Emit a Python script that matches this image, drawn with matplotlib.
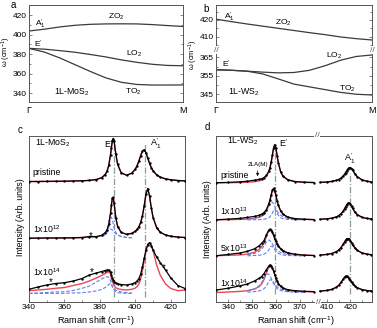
import matplotlib
matplotlib.use("Agg")
import matplotlib.pyplot as plt
from matplotlib.ticker import MultipleLocator

plt.rcParams.update({
    "font.family": ["Liberation Sans", "DejaVu Sans"],
    "mathtext.fontset": "custom",
    "mathtext.rm": "Liberation Sans",
    "mathtext.it": "Liberation Sans:italic",
    "mathtext.bf": "Liberation Sans:bold",
    "font.size": 6.3,
})

FRAME = "#555555"
CURVE = "#3a3a3a"
RED = "#ec4552"
BLUE = "#5f83ea"
REF = "#8f9c9c"

# ---- (a, b) phonon dispersion along Gamma-M (fraction of path) ----
GM = [0, 0.1, 0.2, 0.3, 0.4, 0.5, 0.6, 0.7, 0.8, 0.9, 1.0]
MOS2_ZO = [403.6, 405.5, 407.8, 409.5, 410.5, 410.9, 411.0, 410.9, 410.2, 409.2, 408.3]
MOS2_LO = [385.8, 385.0, 383.5, 381.8, 379.5, 377.0, 374.0, 371.5, 369.5, 368.3, 368.0]
MOS2_TO = [385.8, 382.0, 376.0, 369.0, 362.0, 355.5, 351.0, 348.8, 348.2, 348.2, 348.3]
WS2_ZO = [420.5, 419.0, 417.6, 416.3, 415.0, 413.7, 412.4, 411.2, 409.8, 408.8, 408.0]
WS2_LO = [358.3, 358.0, 357.5, 357.0, 356.6, 356.8, 358.0, 360.5, 363.5, 365.5, 366.3]
WS2_TO = [358.3, 358.0, 357.5, 356.0, 353.3, 350.5, 349.0, 347.5, 346.0, 345.0, 344.6]

# ---- (c) 1L-MoS2 Raman spectra (offset intensity, arb. units) ----
XC = [340, 345, 350, 355, 360, 365, 370, 374, 378, 381, 383, 384, 385, 386, 386.5, 387,
      387.5, 388, 389, 390, 392, 395, 398, 400, 401, 402, 403, 404, 405, 406, 407, 408,
      409, 410, 412, 414, 417, 420, 424, 428]
C_PRIS = [120.5, 120.5, 120.6, 120.7, 120.8, 121, 121.2, 121.6, 122.5, 124.3, 127.5, 130.6,
          136.8, 147.5, 154.5, 161, 163.5, 161, 147.8, 137.6, 129.2, 126.8, 128.8, 133,
          136.5, 141, 146.5, 151, 152.2, 149.2, 143.9, 138.6, 134.3, 131.2, 127.1, 124.9,
          123.1, 122.2, 121.5, 121.1]
C_E12 = [63.8, 63.9, 64, 64, 64.1, 64.2, 64.5, 65.5, 65.4, 66.6, 69.2, 72, 77.8, 89, 97,
         103.8, 104.6, 98.9, 83.9, 75.5, 69.6, 67.7, 68.6, 70.8, 72.6, 75.3, 79.6, 86.3,
         96.4, 108.2, 113.4, 105.9, 94, 84.5, 74.3, 69.8, 67, 65.8, 64.9, 64.5]
C_E12_FIT = [63.8, 63.9, 64, 64, 64.1, 64.2, 64.5, 64.8, 65.2, 66.6, 69.2, 72, 77.8, 89, 97,
             103.8, 104.6, 98.9, 83.9, 75.5, 69.6, 67.7, 68.6, 70.8, 72.6, 75.3, 79.6, 86.3,
             96.4, 108.2, 113.4, 105.9, 94, 84.5, 74.3, 69.8, 67, 65.8, 64.9, 64.5]
C_E14 = [12.7, 15, 17, 18.5, 19.3, 21, 23.5, 27, 29, 30.5, 31.5, 32, 32, 30, 27, 24, 22,
         20.5, 19, 18.2, 17.5, 17, 18, 19.5, 21, 23.5, 28, 35.5, 44, 52, 57.5, 59.3, 56.5,
         52, 45, 39.5, 32, 24, 16.5, 13.5]
C_E14_FIT = [11.3, 12, 12.7, 13.7, 14.5, 16.5, 18.5, 21, 24, 26.5, 28.5, 29.5, 30.3, 28, 24,
             20.5, 18.7, 16.5, 14.2, 13.3, 12.5, 12, 12.7, 14, 15.5, 18, 23, 31.5, 41, 51,
             57.5, 59.3, 56, 51.3, 37, 27, 18, 13.5, 11.3, 12]
C_E12_B1 = [65.3, 67.1, 69.4, 74.3, 82.7, 84.8, 82.7, 78.3, 74.3, 69.4, 67.1, 65.3, 64.5, 64.2]
C_E12_B2 = [66.2, 68.3, 70, 71.9, 72.8, 72.6, 71.9, 71, 70, 68.3, 67, 65.6, 64.7, 64.3]
C_E14_B1 = [8.7, 9, 9.5, 10, 10.3, 11.5, 13.7, 16, 20, 23, 25, 25.3, 24.7, 21, 18, 15.5, 14,
            13, 11.8, 11.2, 10, 9.3, 9]
C_E14_B2 = [8.5, 8.5, 8.6, 8.6, 8.7, 9, 9.3, 10, 11.2, 12.5, 14.5, 15.5, 17.5, 18.7, 18, 15.5,
            13.7, 12, 10.3, 9.5, 8.9, 8.7, 8.7]
C_REF_LINES = [387.8, 405.3]
C_STARS_X = [375, 352, 375.5, 415.8]
C_STARS_Y = [66, 19.5, 29.5, 34]

# ---- (d) 1L-WS2 Raman spectra, broken x axis ----
XD_L = [335, 340, 345, 348, 351, 353, 354, 355, 356, 357, 357.5, 358, 358.5, 359, 359.5,
        360, 360.5, 361, 362, 363, 365, 368, 372, 376]
XD_R = [407, 410, 412, 414, 415, 416, 417, 417.5, 418, 418.5, 419, 419.5, 420, 420.5, 421,
        422, 423, 425, 427, 429]
D_PRIS_L = [119.3, 119.6, 120.2, 120.8, 121.8, 122.6, 123.3, 124.5, 126.6, 130.8, 134.5,
            139.8, 146.8, 154, 157.3, 153.8, 146.5, 139.4, 130.2, 125.8, 122.2, 120.5,
            119.8, 119.5]
D_PRIS_FIT_L = [119.2, 119.3, 119.5, 119.8, 120.3, 121.2, 122, 123.3, 125.6, 130, 133.8,
                139.2, 146.3, 153.6, 157, 153.6, 146.3, 139.2, 130, 125.6, 122.2, 120.3,
                119.6, 119.4]
D_PRIS_R = [119.6, 120, 120.6, 121.6, 122.5, 123.9, 126.2, 127.7, 129.5, 131.4, 133.2, 134.3,
            134.4, 133.4, 131.8, 128, 125.2, 122.1, 120.8, 120.1]
D_13_L = [82.2, 82.9, 83.6, 84.6, 85.6, 86.7, 87.8, 89.5, 92.5, 98.2, 102.3, 107.3, 111.8,
          113.6, 111.4, 106.6, 101.3, 96.9, 91, 87.8, 84.8, 83.3, 82.7, 82.4]
D_13_FIT_L = [82.2, 82.3, 82.6, 82.9, 83.7, 84.8, 85.9, 87.7, 90.9, 96.8, 101.1, 106.3, 111,
              113, 111, 106.3, 101.1, 96.8, 90.9, 87.7, 84.8, 83.3, 82.7, 82.4]
D_13_R = [82.7, 83.2, 83.8, 85.1, 86.3, 88.2, 91.2, 93.2, 95.4, 97.4, 98.8, 98.9, 97.8, 95.8,
          93.6, 89.8, 87.3, 84.7, 83.6, 83.1]
D_513_L = [46.3, 47.6, 49, 50.7, 53.2, 56.3, 58.7, 61.4, 67.3, 71.9, 72.7, 71.9, 69.7, 66.7,
           63.5, 60.6, 58.2, 56.1, 53.1, 51.1, 49.1, 47.7, 46.8, 46.5]
D_513_FIT_L = [46.3, 46.7, 47.1, 47.9, 49.8, 52.7, 55.4, 58.6, 65.5, 71.3, 72.5, 72, 69.8,
               66.9, 63.7, 60.8, 58.4, 56.3, 53.3, 51.3, 49.1, 47.8, 46.9, 46.5]
D_513_R = [46.9, 47.6, 48.5, 50.3, 52, 54.5, 58, 60, 61.9, 63.2, 63.5, 62.7, 61.2, 59.2, 57.2,
           53.9, 51.6, 49, 47.9, 47.3]
D_14_L = [12, 13.8, 16.2, 18, 21, 23.8, 25.5, 28.5, 32.3, 36, 37, 36.5, 34, 31, 27.5, 24, 21,
          18.5, 15.8, 14, 12.3, 11.3, 10.7, 10.4]
D_14_FIT_L = [9.5, 10, 10.6, 11.3, 13, 15.5, 18, 22.5, 29, 35.5, 37, 36.5, 34, 31, 27.5, 24,
              21, 18.5, 15.5, 13.5, 11.8, 10.8, 10.3, 10.1]
D_14_R = [10.9, 11.6, 12.6, 14.8, 16.7, 19.6, 23.1, 24.8, 25.9, 25.9, 25, 23.5, 21.7, 19.9,
          18.3, 15.8, 14.2, 12.4, 11.5, 11]
# Lorentzian components (blue), on XD_L[3:23] = 348..372
D_13_B1 = [82.8, 83.5, 84.6, 85.7, 87.4, 90.1, 95.3, 97.8, 99.7, 99.9, 98.3, 95.7, 93.2, 91,
           89.4, 86.8, 85.2, 83.7, 82.9, 82.5]
D_13_B2 = [82.1, 82.3, 82.4, 82.6, 82.9, 83.3, 84.3, 85.3, 86.7, 88.9, 91.6, 93, 91.6, 88.9,
           86.7, 84.3, 83.3, 82.6, 82.3, 82.1]
D_513_B1 = [47.2, 48.5, 50.7, 52.9, 56.1, 59.9, 62, 61.4, 59.9, 58, 56.1, 54.3, 52.9, 51.7,
            50.7, 49.4, 48.5, 47.5, 46.8, 46.4]
D_513_B2 = [46.2, 46.5, 46.8, 47.2, 47.9, 49.3, 52, 54, 55.7, 55.8, 54.4, 52.4, 50.7, 49.5,
            48.6, 47.6, 47, 46.5, 46.3, 46.1]
D_14_B1 = [11.1, 13, 16.3, 19.5, 23.8, 27.8, 27.8, 26, 23.8, 21.5, 19.5, 17.7, 16.3, 15.1,
           14.2, 13, 12.1, 11.1, 10.4, 10]
D_14_B2 = [9.9, 10.4, 11.1, 11.9, 13.3, 16, 20.4, 22.1, 22.3, 20.8, 18.5, 16.4, 14.7, 13.5,
           12.6, 11.5, 10.9, 10.3, 9.9, 9.7]
D_REF_L, D_REF_R = 359.7, 420.0
LA_X = 352.3

W, H = 377, 328


def rect(x0, y0, x1, y1):
    """pixel box (y from top) -> figure fraction rect"""
    return [x0 / W, 1 - y1 / H, (x1 - x0) / W, (y1 - y0) / H]


def style(ax):
    for s in ax.spines.values():
        s.set_color(FRAME)
        s.set_linewidth(0.7)
    ax.tick_params(which="both", direction="in", color=FRAME, labelsize=6, pad=1.5, width=0.5)
    ax.tick_params(which="major", length=2.5)
    ax.tick_params(which="minor", length=1.5)


def spectrum(ax, x, data, fit):
    ax.plot(x, fit, color=RED, lw=1.0, zorder=2)
    ax.plot(x, data, color="k", lw=0.9, marker="o", ms=1.7, mew=0, zorder=4)


def comps(ax, x, *ys):
    for y in ys:
        ax.plot(x, y, color=BLUE, lw=0.8, ls=(0, (3.2, 1.6)), zorder=3)


def brk(x, y):
    fig.text(x / W, 1 - y / H, "//", fontsize=6, color=FRAME, ha="center", va="center",
             bbox=dict(fc="white", ec="none", pad=0.2), zorder=10)


fig = plt.figure(figsize=(W / 100, H / 100), dpi=100)

# ---------------- panel a ----------------
ax = fig.add_axes(rect(29, 5, 183, 102))
style(ax)
for y in (MOS2_ZO, MOS2_LO, MOS2_TO):
    ax.plot(GM, y, color=CURVE, lw=0.9)
ax.set_xlim(0, 1)
ax.set_ylim(330.8, 430.3)
ax.yaxis.set_major_locator(MultipleLocator(20))
ax.yaxis.set_minor_locator(MultipleLocator(10))
ax.tick_params(axis="y", which="both", right=True)
ax.set_xticks([0, 1], ["Γ", "M"])
ax.tick_params(axis="x", length=0, pad=3, labelsize=6.5)
ax.text(0.075, 410.8, "A$_1^{\\prime}$", ha="center", va="center", fontsize=6)
ax.text(0.06, 389.5, "E$^{\\prime}$", ha="center", va="center", fontsize=6)
ax.text(0.57, 418.3, "ZO$_2$", ha="center", va="center", fontsize=6)
ax.text(0.68, 380.5, "LO$_2$", ha="center", va="center", fontsize=6)
ax.text(0.68, 341.3, "TO$_2$", ha="center", va="center", fontsize=6)
ax.text(0.277, 340.5, "1L-MoS$_2$", ha="center", va="center", fontsize=6.3)

# ---------------- panel b (broken y) ----------------
bt = fig.add_axes(rect(216, 5, 372, 50))
bb = fig.add_axes(rect(216, 50, 372, 102))
for ax in (bt, bb):
    style(ax)
    for y in (WS2_ZO, WS2_LO, WS2_TO):
        ax.plot(GM, y, color=CURVE, lw=0.9)
    ax.set_xlim(0, 1)
    ax.yaxis.set_minor_locator(MultipleLocator(5))
    ax.tick_params(axis="y", which="both", right=True)
bt.set_ylim(402, 429)
bt.set_yticks([410, 420])
bt.set_xticks([])
bt.spines["bottom"].set_visible(False)
bb.set_ylim(340.8, 369)
bb.set_yticks([345, 355, 365])
bb.spines["top"].set_visible(False)
bb.set_xticks([0, 1], ["Γ", "M"])
bb.tick_params(axis="x", length=0, pad=3, labelsize=6.5)
bt.text(0.088, 421.8, "A$_1^{\\prime}$", ha="center", va="center", fontsize=6)
bt.text(0.432, 418.0, "ZO$_2$", ha="center", va="center", fontsize=6)
bb.text(0.066, 361.0, "E$^{\\prime}$", ha="center", va="center", fontsize=6)
bb.text(0.76, 365.7, "LO$_2$", ha="center", va="center", fontsize=6)
bb.text(0.84, 348.1, "TO$_2$", ha="center", va="center", fontsize=6)
bb.text(0.18, 346.0, "1L-WS$_2$", ha="center", va="center", fontsize=6.3)
brk(216, 50)
brk(372, 50)

# ---------------- panel c ----------------
ax = fig.add_axes(rect(29, 136, 185, 302))
style(ax)
spectrum(ax, XC, C_PRIS, C_PRIS)
spectrum(ax, XC, C_E12, C_E12_FIT)
spectrum(ax, XC, C_E14, C_E14_FIT)
comps(ax, XC[9:23], C_E12_B1, C_E12_B2)
comps(ax, XC[:23], C_E14_B1, C_E14_B2)
ax.axvline(C_REF_LINES[0], 0.03, 0.97, color=REF, lw=0.9, ls=(0, (5, 1.5, 1, 1.5)), zorder=1)
ax.axvline(C_REF_LINES[1], 0.03, 0.95, color=REF, lw=0.9, ls=(0, (5, 1.5, 1, 1.5)), zorder=1)
for sx, sy in zip(C_STARS_X, C_STARS_Y):
    ax.text(sx, sy, "*", ha="center", va="center", fontsize=7)
ax.set_xlim(340, 428)
ax.set_ylim(0, 166)
ax.set_yticks([])
ax.xaxis.set_major_locator(MultipleLocator(20))
ax.xaxis.set_minor_locator(MultipleLocator(10))
ax.text(0.04, 0.955, "1L-MoS$_2$", transform=ax.transAxes, ha="left", va="center", fontsize=6.3)
ax.text(0.51, 0.952, "E$^{\\prime}$", transform=ax.transAxes, ha="center", va="center", fontsize=6.5)
ax.text(0.81, 0.952, "A$_1^{\\prime}$", transform=ax.transAxes, ha="center", va="center", fontsize=6.5)
ax.text(0.02, 0.78, "pristine", transform=ax.transAxes, ha="left", va="center", fontsize=6.3)
ax.text(0.025, 0.44, "1x10$^{12}$", transform=ax.transAxes, ha="left", va="center", fontsize=6.3)
ax.text(0.025, 0.18, "1x10$^{14}$", transform=ax.transAxes, ha="left", va="center", fontsize=6.3)

# ---------------- panel d (broken x) ----------------
dl = fig.add_axes(rect(216, 136, 318, 302))
dr = fig.add_axes(rect(318, 136, 372, 302))
for ax in (dl, dr):
    style(ax)
    ax.set_ylim(0, 166)
    ax.set_yticks([])
    ax.xaxis.set_minor_locator(MultipleLocator(5))
dl.spines["right"].set_visible(False)
dr.spines["left"].set_visible(False)
spectrum(dl, XD_L, D_PRIS_L, D_PRIS_FIT_L)
spectrum(dl, XD_L, D_13_L, D_13_FIT_L)
spectrum(dl, XD_L, D_513_L, D_513_FIT_L)
spectrum(dl, XD_L, D_14_L, D_14_FIT_L)
comps(dl, XD_L[3:23], D_13_B1, D_13_B2)
comps(dl, XD_L[3:23], D_513_B1, D_513_B2)
comps(dl, XD_L[3:23], D_14_B1, D_14_B2)
for y in (D_PRIS_R, D_13_R, D_513_R, D_14_R):
    spectrum(dr, XD_R, y, y)
dl.axvline(D_REF_L, 0.05, 0.93, color=REF, lw=0.9, ls=(0, (5, 1.5, 1, 1.5)), zorder=1)
dr.axvline(D_REF_R, 0.05, 0.78, color=REF, lw=0.9, ls=(0, (5, 1.5, 1, 1.5)), zorder=1)
dl.set_xlim(334.8, 377.7)
dr.set_xlim(406.1, 429.3)
dl.set_xticks([340, 350, 360, 370])
dr.set_xticks([410, 420])
dl.annotate("", xy=(LA_X, 123), xytext=(LA_X, 134),
            arrowprops=dict(arrowstyle="-|>", lw=0.5, color="k", mutation_scale=4))
dl.text(LA_X + 0.3, 137.5, "2LA(M)", ha="center", va="center", fontsize=4.5)
dl.text(0.11, 0.97, "1L-WS$_2$", transform=dl.transAxes, ha="left", va="center", fontsize=6.3)
dl.text(0.66, 0.955, "E$^{\\prime}$", transform=dl.transAxes, ha="center", va="center", fontsize=6.5)
dr.text(0.59, 0.86, "A$_1^{\\prime}$", transform=dr.transAxes, ha="center", va="center", fontsize=6.5)
dl.text(0.04, 0.76, "pristine", transform=dl.transAxes, ha="left", va="center", fontsize=6.3)
dl.text(0.04, 0.545, "1x10$^{13}$", transform=dl.transAxes, ha="left", va="center", fontsize=6.3)
dl.text(0.04, 0.324, "5x10$^{13}$", transform=dl.transAxes, ha="left", va="center", fontsize=6.3)
dl.text(0.04, 0.112, "1x10$^{14}$", transform=dl.transAxes, ha="left", va="center", fontsize=6.3)
brk(317, 136)
brk(318, 302)

# ---------------- shared labels ----------------
fig.text(6.5 / W, 1 - 52 / H, "ω (cm$^{-1}$)", rotation=90, ha="center", va="center", fontsize=5.3)
fig.text(193 / W, 1 - 55 / H, "ω (cm$^{-1}$)", rotation=90, ha="center", va="center", fontsize=5.3)
fig.text(21 / W, 1 - 217 / H, "Intensity (Arb. units)", rotation=90, ha="center", va="center", fontsize=6.3)
fig.text(208 / W, 1 - 219 / H, "Intensity (Arb. units)", rotation=90, ha="center", va="center", fontsize=6.3)
fig.text(96 / W, 1 - 321 / H, "Raman shift (cm$^{-1}$)", ha="center", va="center", fontsize=6.5)
fig.text(296 / W, 1 - 321 / H, "Raman shift (cm$^{-1}$)", ha="center", va="center", fontsize=6.5)
for lab, px, py in (("a", 13, 5), ("b", 206, 9), ("c", 20, 130), ("d", 207, 127)):
    fig.text(px / W, 1 - py / H, lab, ha="center", va="center", fontsize=7)

fig.savefig("out.png", dpi=100)
